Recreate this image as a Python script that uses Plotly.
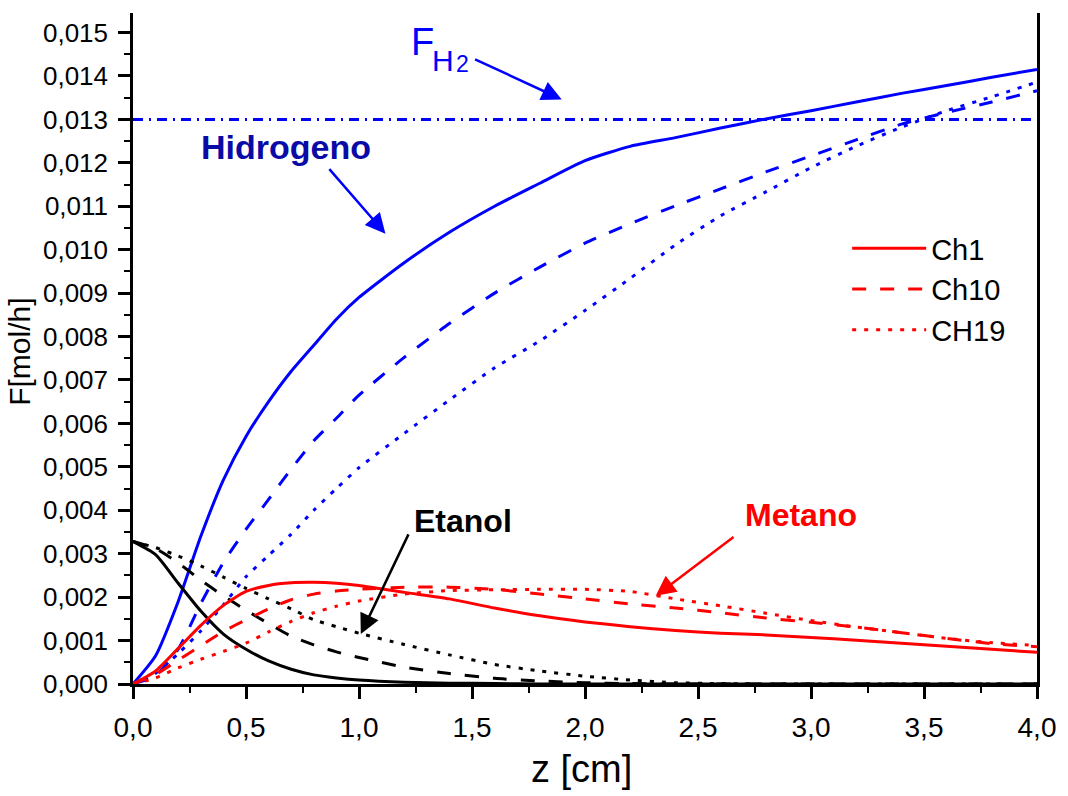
import plotly.graph_objects as go

# ---- data ----
z = [0.0, 0.1, 0.2, 0.3, 0.4, 0.5, 0.6, 0.7, 0.8, 0.9, 1.0, 1.2, 1.4, 1.6, 1.8,
     2.0, 2.2, 2.4, 2.6, 2.8, 3.0, 3.2, 3.4, 3.6, 3.8, 4.0]

h2_ch1 = [0.0, 0.00065, 0.0019, 0.0034, 0.0047, 0.0057, 0.0065, 0.0072, 0.0078, 0.0084,
          0.0089, 0.0097, 0.0104, 0.0110, 0.01153, 0.01205, 0.01238, 0.01258, 0.0128,
          0.01301, 0.0132, 0.0134, 0.0136, 0.01378, 0.01397, 0.01415]
h2_ch10 = [0.0, 0.0002, 0.0008, 0.00185, 0.0028, 0.00356, 0.00425, 0.00495, 0.0056, 0.00612,
           0.00665, 0.00752, 0.0083, 0.0090, 0.0096, 0.01015, 0.0106, 0.01101, 0.0114,
           0.01179, 0.01216, 0.01253, 0.01289, 0.01316, 0.0134, 0.01366]
h2_ch19 = [0.0, 0.00025, 0.0007, 0.00122, 0.00182, 0.00247, 0.00296, 0.00345, 0.0040, 0.0045,
           0.00498, 0.00577, 0.00654, 0.00728, 0.0079, 0.0086, 0.00934, 0.01011, 0.01078,
           0.01133, 0.01189, 0.01238, 0.01282, 0.0132, 0.01352, 0.01386]

et_ch1 = [0.00328, 0.00298, 0.00232, 0.00168, 0.00115, 0.0008, 0.00053, 0.00034, 0.00021,
          0.00014, 0.00009, 0.00004, 0.00002, 0.00001, 0.0, 0.0, 0.0, 0.0, 0.0, 0.0, 0.0,
          0.0, 0.0, 0.0, 0.0, 0.0]
et_ch10 = [0.00328, 0.00312, 0.00279, 0.00239, 0.00203, 0.0017, 0.00139, 0.0011, 0.0009,
           0.00074, 0.00061, 0.00039, 0.00024, 0.00013, 0.00007, 0.00003, 0.00001, 0.0, 0.0,
           0.0, 0.0, 0.0, 0.0, 0.0, 0.0, 0.0]
et_ch19 = [0.00328, 0.00314, 0.00295, 0.00272, 0.00246, 0.0022, 0.00196, 0.00173, 0.00148,
           0.00132, 0.00117, 0.00091, 0.00067, 0.00045, 0.0003, 0.00018, 0.00009, 0.00003,
           0.00001, 0.0, 0.0, 0.0, 0.0, 0.0, 0.0, 0.0]

me_ch1 = [0.0, 0.0003, 0.00082, 0.00135, 0.00181, 0.00213, 0.00227, 0.00233, 0.00234, 0.00232,
          0.00227, 0.00211, 0.00196, 0.00175, 0.00157, 0.00143, 0.00132, 0.00123, 0.00117,
          0.00113, 0.00107, 0.00101, 0.00094, 0.00087, 0.0008, 0.00073]
me_ch10 = [0.0, 0.00022, 0.00055, 0.00088, 0.00121, 0.00148, 0.00173, 0.00194, 0.00207,
           0.00214, 0.00218, 0.00223, 0.00223, 0.00218, 0.00207, 0.00196, 0.00184, 0.00175,
           0.00164, 0.00152, 0.00142, 0.00131, 0.00118, 0.00105, 0.00093, 0.00086]
me_ch19 = [0.0, 0.00014, 0.00037, 0.00057, 0.00075, 0.00094, 0.0012, 0.00144, 0.00164,
           0.00179, 0.00191, 0.00207, 0.00215, 0.00217, 0.00218, 0.00218, 0.00213, 0.00196,
           0.0018, 0.00163, 0.00146, 0.00131, 0.00118, 0.00105, 0.00095, 0.00089]

fh2_level = 0.013
legend_names = ["Ch1", "Ch10", "CH19"]

BLUE = "#0000FF"
RED = "#FF0000"
BLACK = "#000000"
DASH = "14px,14px"
DOT = "4px,8px"
styles = ["solid", DASH, DOT]
SMOOTH = 0.6

fig = go.Figure()

# horizontal F_H2 line
fig.add_trace(go.Scatter(x=[z[0], z[-1]], y=[fh2_level, fh2_level], mode="lines",
                         line=dict(color=BLUE, width=3, dash="10px,6px,2px,6px"),
                         showlegend=False, hoverinfo="skip"))

for ys, st in zip([h2_ch1, h2_ch10, h2_ch19], styles):
    fig.add_trace(go.Scatter(x=z, y=ys, mode="lines", showlegend=False,
                             line=dict(color=BLUE, width=3, dash=st, shape="spline", smoothing=SMOOTH)))
for ys, st in zip([et_ch1, et_ch10, et_ch19], styles):
    fig.add_trace(go.Scatter(x=z, y=ys, mode="lines", showlegend=False,
                             line=dict(color=BLACK, width=3, dash=st, shape="spline", smoothing=SMOOTH)))
for ys, st, nm in zip([me_ch1, me_ch10, me_ch19], styles, legend_names):
    fig.add_trace(go.Scatter(x=z, y=ys, mode="lines", name=nm, legendgroup=nm,
                             line=dict(color=RED, width=3, dash=st, shape="spline", smoothing=SMOOTH)))

FONT = "Liberation Sans, Arial, sans-serif"

annotations = [
    # F_H2 label
    dict(x=1.28, y=0.01478, text="F", font=dict(size=38, color=BLUE, family=FONT)),
    dict(x=1.37, y=0.01436, text="H", font=dict(size=30, color=BLUE, family=FONT)),
    dict(x=1.46, y=0.01427, text="2", font=dict(size=23, color=BLUE, family=FONT)),
    dict(x=0.675, y=0.01237, text="<b>Hidrogeno</b>", font=dict(size=34, color="#0A0AA6", family=FONT)),
    dict(x=1.462, y=0.003756, text="<b>Etanol</b>", font=dict(size=32, color=BLACK, family=FONT)),
    dict(x=2.955, y=0.00389, text="<b>Metano</b>", font=dict(size=32, color=RED, family=FONT)),
]
for a in annotations:
    a.update(xref="x", yref="y", showarrow=False)

arrows = [
    (1.507, 0.0144, 1.897, 0.01346, BLUE),
    (0.863, 0.01189, 1.117, 0.01037, BLUE),
    (1.222, 0.00348, 1.008, 0.00115, BLACK),
    (2.664, 0.00341, 2.313, 0.00203, RED),
]
for x0, y0, x1, y1, c in arrows:
    annotations.append(dict(x=x1, y=y1, ax=x0, ay=y0, xref="x", yref="y", axref="x", ayref="y",
                            text="", showarrow=True, arrowhead=2, arrowsize=1.6,
                            arrowwidth=2.5, arrowcolor=c))

# axis titles
annotations.append(dict(text="z [cm]", xref="paper", yref="paper", x=0.496, y=-0.126,
                        xanchor="center", yanchor="middle", showarrow=False,
                        font=dict(size=38, color=BLACK, family=FONT)))
annotations.append(dict(text="F[mol/h]", xref="paper", yref="paper", x=0, y=0.495,
                        xshift=-113, xanchor="center", yanchor="middle", showarrow=False,
                        textangle=-90, font=dict(size=30, color=BLACK, family=FONT)))

fig.update_layout(
    width=1068, height=796,
    margin=dict(l=133, r=22, t=13, b=112),
    paper_bgcolor="white", plot_bgcolor="white",
    separators=",.",
    showlegend=True,
    legend=dict(x=0.79, y=0.687, xanchor="left", yanchor="top", bgcolor="rgba(0,0,0,0)",
                font=dict(size=29, color=BLACK, family=FONT), tracegroupgap=0, itemwidth=74),
    annotations=annotations,
    xaxis=dict(range=[0, 4], tick0=0, dtick=0.5, tickformat=".1f", showgrid=False, zeroline=False,
               showline=True, linewidth=2.5, linecolor=BLACK, ticks="outside", ticklen=12,
               tickwidth=2.5, tickcolor=BLACK, ticklabelstandoff=5,
               minor=dict(dtick=0.25, ticks="outside", ticklen=6, tickwidth=2, tickcolor=BLACK),
               tickfont=dict(size=28, color=BLACK, family=FONT)),
    yaxis=dict(range=[0, 0.01545], tick0=0, dtick=0.001, tickformat=".3f", showgrid=False,
               zeroline=False, showline=True, mirror=True, linewidth=2.5, linecolor=BLACK,
               ticks="outside", ticklen=12, tickwidth=2.5, tickcolor=BLACK, ticklabelstandoff=5,
               minor=dict(dtick=0.0005, ticks="outside", ticklen=6, tickwidth=2, tickcolor=BLACK),
               tickfont=dict(size=26, color=BLACK, family=FONT)),
)

fig.write_html("out.html")
